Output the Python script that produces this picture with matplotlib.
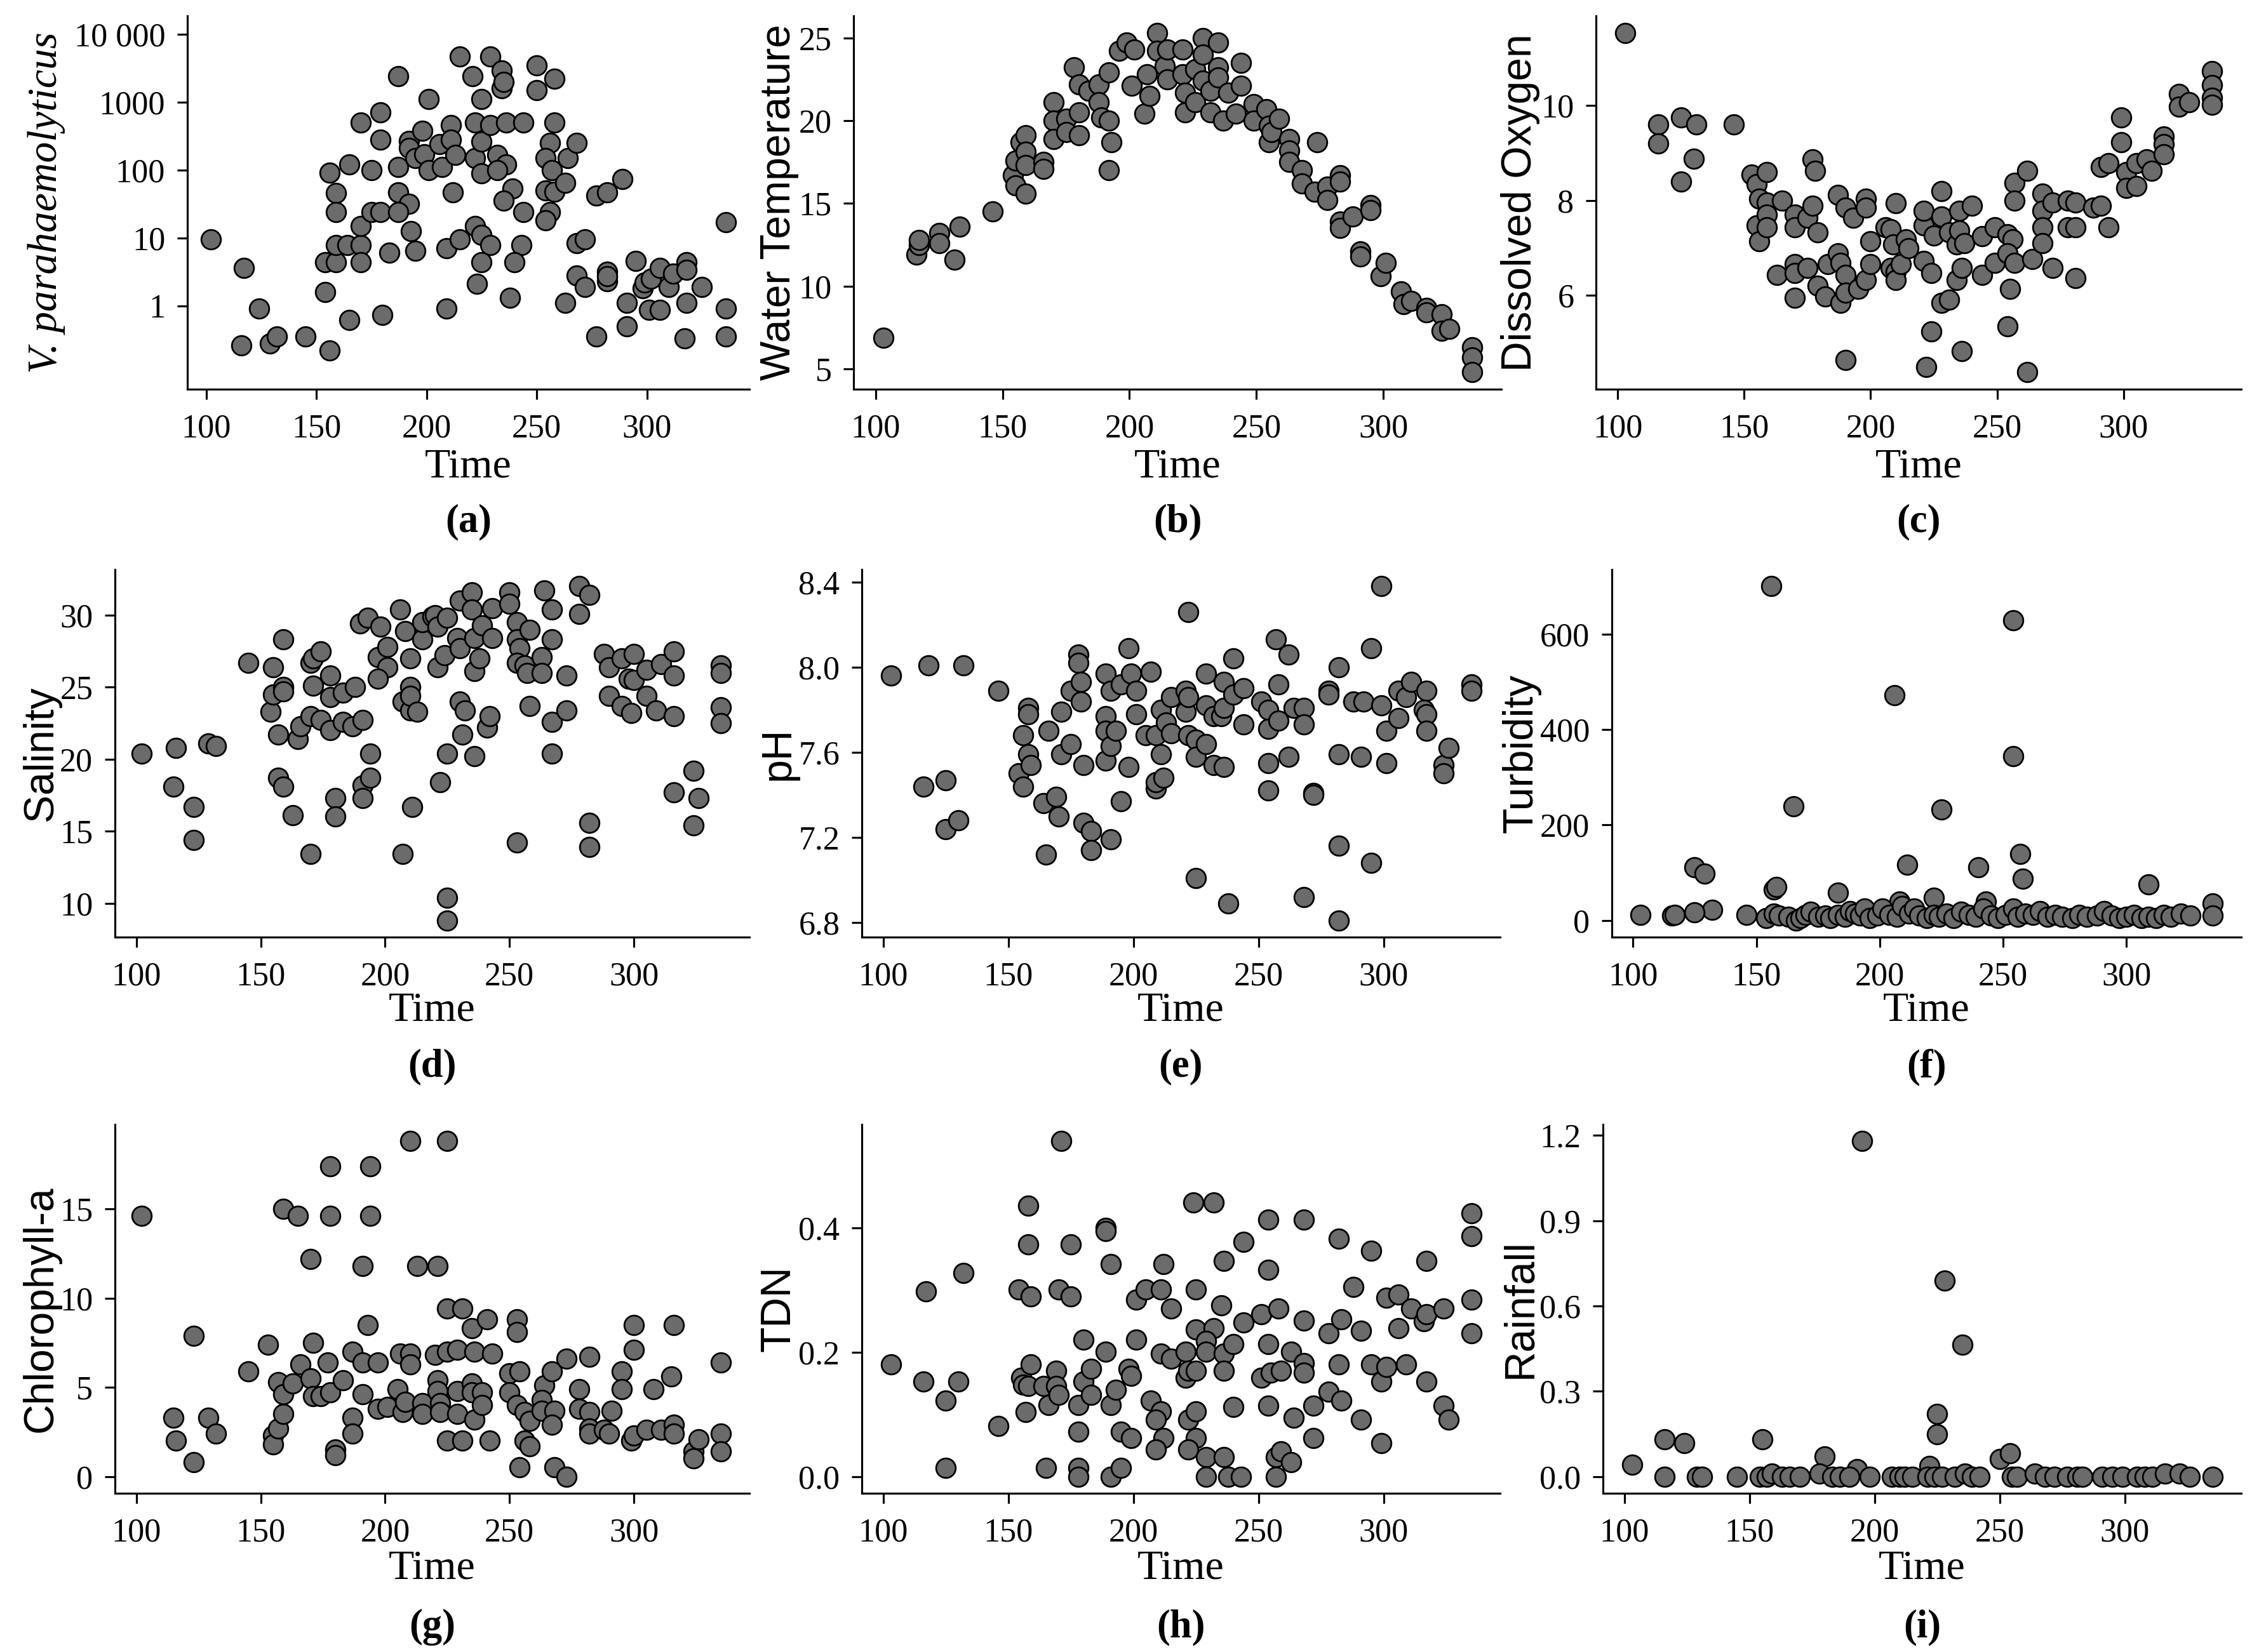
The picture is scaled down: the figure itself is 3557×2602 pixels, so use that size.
import matplotlib
matplotlib.use("Agg")
import matplotlib.pyplot as plt
from matplotlib.ticker import FixedLocator, FixedFormatter, NullLocator

plt.rcParams["font.family"] = "Liberation Serif"

# (a) V. parahaemolyticus
vp_time = [102, 117, 116, 124, 129, 132, 145, 156, 154, 165,
           180, 209, 156, 159, 159, 154, 159, 159, 164, 170,
           170, 170, 165, 170, 179, 179, 175, 175, 179, 183,
           187, 187, 187, 192, 187, 193, 195, 192, 192, 198,
           195, 199, 201, 201, 206, 207, 211, 211, 213, 212,
           215, 209, 215, 221, 222, 222, 225, 225, 225, 229,
           229, 222, 225, 229, 225, 223, 234, 234, 235, 236,
           232, 236, 232, 239, 235, 244, 244, 243, 240, 238,
           250, 250, 258, 258, 256, 254, 257, 254, 258, 263,
           256, 254, 264, 268, 268, 272, 268, 272, 263, 277,
           282, 289, 277, 282, 282, 282, 291, 291, 295, 298,
           299, 302, 301, 306, 306, 310, 312, 317, 318, 318,
           318, 325, 336, 336, 336]
vp_vals = [9.4, 3.6, 0.26, 0.9, 0.28, 0.35, 0.35, 0.22, 1.6, 0.62,
           0.74, 0.9, 91, 46, 24, 4.4, 4.4, 7.9, 7.9, 7.9,
           4.4, 15, 120, 500, 700, 280, 100, 24, 24, 6,
           2400, 110, 47, 32, 24, 12.7, 6.4, 270, 210, 380,
           150, 170, 1100, 100, 240, 110, 460, 280, 165, 47,
           4700, 7, 9.4, 2400, 500, 150, 1100, 260, 90, 4700,
           460, 15, 11, 7.9, 4.4, 2.1, 2900, 1600, 2000, 500,
           165, 120, 100, 53, 35, 500, 24, 7.9, 4.4, 1.3,
           3500, 1500, 2200, 500, 250, 150, 100, 50, 48, 64,
           24, 18, 150, 250, 8.4, 9.4, 2.8, 1.9, 1.1, 42,
           47, 74, 0.35, 3.2, 2.3, 2.7, 1.1, 0.5, 4.6, 1.8,
           2.2, 2.5, 0.87, 0.87, 3.6, 1.9, 3.0, 0.33, 4.4, 3.4,
           1.1, 1.9, 17, 0.9, 0.35]

# (b) water temperature
wt_time = [103, 116, 117, 117, 125, 125, 131, 133, 146, 154,
           155, 155, 157, 159, 159, 159, 159, 166, 166, 170,
           170, 170, 175, 175, 178, 180, 180, 180, 184, 188,
           188, 189, 192, 192, 193, 192, 196, 199, 202, 201,
           206, 208, 207, 211, 211, 214, 215, 215, 221, 221,
           222, 222, 226, 226, 229, 229, 229, 232, 232, 235,
           235, 235, 237, 239, 242, 244, 244, 249, 249, 254,
           255, 255, 256, 259, 263, 263, 263, 268, 268, 274,
           273, 278, 278, 283, 283, 283, 283, 288, 291, 291,
           295, 295, 299, 301, 307, 308, 311, 317, 317, 323,
           323, 326, 335, 335, 335]
wt_vals = [6.9, 11.9, 12.5, 12.8, 13.2, 12.6, 11.6, 13.6, 14.5, 16.7,
           16.1, 17.6, 18.7, 19.1, 18.1, 17.3, 15.6, 17.5, 17.1, 21.1,
           20.0, 18.9, 20.1, 19.3, 23.2, 22.2, 20.5, 19.1, 21.8, 22.2,
           21.1, 20.2, 22.9, 20.0, 18.7, 17.0, 24.2, 24.7, 24.3, 22.1,
           20.4, 21.5, 22.8, 25.3, 24.2, 23.3, 24.3, 22.5, 24.3, 22.8,
           21.7, 20.5, 23.1, 21.1, 25.0, 24.0, 22.4, 21.8, 20.5, 24.7,
           23.2, 22.6, 20.0, 21.7, 20.4, 23.5, 22.1, 21.0, 20.0, 20.7,
           19.7, 18.7, 19.3, 20.1, 18.9, 18.2, 17.5, 17.0, 16.2, 18.7,
           15.7, 16.0, 15.2, 16.7, 16.3, 13.9, 13.5, 14.2, 12.1, 11.8,
           14.9, 14.6, 10.6, 11.4, 9.7, 8.9, 9.1, 8.7, 8.4, 8.3,
           7.3, 7.4, 6.3, 5.7, 4.8]

# (c) dissolved oxygen
do_time = [103, 116, 116, 125, 125, 130, 131, 146, 153, 155,
           156, 159, 155, 156, 159, 159, 159, 163, 165, 170,
           170, 170, 170, 170, 175, 175, 177, 178, 177, 179,
           179, 182, 183, 187, 187, 188, 188, 190, 190, 190,
           190, 193, 195, 198, 198, 198, 200, 200, 206, 208,
           208, 210, 209, 210, 210, 212, 214, 215, 221, 221,
           221, 224, 224, 222, 225, 228, 228, 228, 231, 231,
           234, 235, 235, 237, 234, 236, 236, 240, 244, 244,
           249, 249, 254, 256, 254, 255, 254, 257, 257, 257,
           262, 262, 264, 268, 268, 268, 268, 272, 272, 278,
           278, 281, 281, 281, 288, 291, 294, 291, 294, 299,
           299, 301, 301, 305, 305, 309, 311, 316, 316, 316,
           322, 322, 326, 335, 335, 335, 335]
do_vals = [11.53, 9.6, 9.2, 9.75, 8.4, 8.88, 9.6, 9.6, 8.55, 8.34,
           8.04, 8.6, 7.48, 7.14, 7.96, 7.7, 7.44, 6.43, 8.0, 7.7,
           7.44, 5.95, 6.66, 6.47, 6.58, 7.64, 8.86, 8.63, 7.89, 7.33,
           6.2, 5.98, 6.66, 8.11, 6.88, 6.69, 5.84, 7.85, 6.43, 6.06,
           4.64, 7.63, 6.13, 8.04, 7.85, 6.32, 7.14, 6.66, 7.44, 7.4,
           6.58, 7.94, 7.07, 6.5, 6.32, 6.66, 7.18, 6.99, 7.48, 7.78,
           6.73, 6.47, 5.24, 4.49, 7.26, 8.19, 7.66, 5.84, 7.33, 5.91,
           7.07, 7.78, 7.37, 7.1, 6.32, 6.58, 4.83, 7.89, 7.25, 6.43,
           7.44, 6.69, 7.29, 7.18, 6.88, 6.13, 5.35, 8.37, 7.99, 6.69,
           8.63, 4.38, 6.77, 8.14, 7.78, 7.44, 7.1, 7.96, 6.58, 8.0,
           7.44, 7.96, 7.44, 6.36, 7.85, 7.89, 7.44, 8.71, 8.78, 9.75,
           9.23, 8.6, 8.26, 8.78, 8.3, 8.86, 8.63, 9.34, 9.19, 8.97,
           10.24, 9.98, 10.07, 10.72, 10.43, 10.16, 10.01]

# (d) salinity
sal_time = [102, 115, 116, 123, 123, 129, 132, 145, 154, 155,
            155, 159, 159, 157, 159, 157, 159, 163, 165, 166,
            170, 170, 171, 174, 171, 170, 174, 178, 178, 178,
            180, 180, 183, 183, 188, 187, 191, 190, 193, 191,
            191, 194, 194, 198, 197, 201, 201, 197, 206, 208,
            207, 210, 210, 210, 210, 213, 207, 211, 215, 215,
            219, 220, 221, 225, 221, 224, 229, 230, 230, 222,
            225, 230, 232, 231, 225, 225, 235, 235, 236, 236,
            238, 236, 239, 243, 243, 241, 242, 250, 250, 253,
            253, 254, 253, 256, 257, 258, 253, 258, 263, 263,
            264, 267, 267, 267, 267, 273, 273, 278, 282, 278,
            282, 282, 288, 290, 290, 295, 299, 295, 300, 298,
            300, 305, 309, 305, 311, 316, 316, 316, 316, 324,
            326, 324, 335, 335, 335, 335]
sal_vals = [20.4, 18.1, 20.8, 16.7, 14.4, 21.1, 20.9, 26.7, 23.3, 26.4,
            24.5, 25.0, 24.7, 21.7, 28.3, 18.7, 18.1, 16.1, 21.4, 22.3,
            13.4, 26.7, 27.0, 27.5, 25.1, 23.0, 22.7, 22.0, 25.8, 24.3,
            17.3, 16.0, 22.6, 24.6, 25.0, 22.3, 22.7, 29.4, 29.8, 18.2,
            17.3, 18.7, 20.4, 29.2, 27.1, 27.8, 26.4, 25.6, 30.4, 28.9,
            24.0, 23.4, 27.0, 25.0, 24.4, 23.3, 13.4, 16.7, 28.3, 29.5,
            29.9, 30.0, 29.2, 29.8, 26.4, 27.2, 28.4, 27.7, 31.0, 18.4,
            20.4, 24.0, 23.4, 21.7, 10.4, 8.8, 31.6, 30.4, 28.4, 26.1,
            27.0, 20.2, 29.3, 30.5, 28.4, 22.2, 23.0, 31.6, 30.8, 29.5,
            28.3, 27.7, 26.7, 26.5, 26.0, 29.0, 14.2, 23.7, 27.1, 26.0,
            31.7, 30.4, 28.3, 22.6, 20.4, 25.8, 23.4, 32.0, 31.4, 30.1,
            15.6, 13.9, 27.3, 26.4, 24.4, 23.7, 23.2, 27.0, 27.3, 25.6,
            25.5, 24.4, 23.4, 26.2, 26.6, 27.5, 25.8, 23.0, 17.7, 19.2,
            17.3, 15.4, 26.5, 26.0, 23.6, 22.5]

# (e) pH
ph_time = [103, 118, 132, 116, 125, 125, 130, 146, 154, 156,
           156, 158, 158, 158, 159, 164, 170, 169, 165, 166,
           171, 171, 175, 175, 178, 178, 179, 179, 180, 180,
           183, 183, 189, 189, 189, 189, 191, 191, 193, 191,
           195, 195, 199, 201, 201, 198, 198, 207, 205, 209,
           211, 209, 209, 212, 211, 213, 215, 215, 221, 221,
           222, 222, 222, 225, 225, 225, 229, 229, 229, 232,
           236, 232, 235, 236, 236, 238, 240, 244, 244, 240,
           251, 254, 254, 254, 254, 257, 262, 258, 258, 262,
           264, 268, 268, 268, 272, 272, 278, 278, 282, 282,
           282, 282, 288, 292, 291, 295, 295, 299, 299, 301,
           301, 306, 306, 309, 311, 317, 316, 317, 317, 324,
           324, 326, 335, 335]
ph_vals = [7.96, 8.01, 8.01, 7.44, 7.47, 7.24, 7.28, 7.89, 7.50, 7.44,
           7.68, 7.81, 7.78, 7.59, 7.54, 7.36, 7.30, 7.39, 7.12, 7.70,
           7.79, 7.59, 7.64, 7.89, 8.06, 8.02, 7.93, 7.84, 7.54, 7.27,
           7.23, 7.14, 7.97, 7.77, 7.70, 7.56, 7.89, 7.63, 7.70, 7.19,
           7.92, 7.37, 7.97, 7.89, 7.78, 8.09, 7.53, 7.98, 7.68, 7.68,
           7.59, 7.43, 7.46, 7.48, 7.80, 7.74, 7.69, 7.86, 7.89, 7.79,
           7.86, 8.26, 7.68, 7.66, 7.58, 7.01, 7.97, 7.82, 7.64, 7.54,
           7.53, 7.77, 7.77, 7.93, 7.81, 6.89, 7.87, 7.90, 7.73, 8.04,
           7.84, 7.80, 7.71, 7.55, 7.42, 8.13, 8.06, 7.92, 7.75, 7.58,
           7.81, 7.81, 7.73, 6.92, 7.41, 7.40, 7.89, 7.87, 8.00, 7.59,
           7.16, 6.81, 7.84, 7.84, 7.58, 8.09, 7.08, 8.38, 7.82, 7.70,
           7.55, 7.89, 7.76, 7.86, 7.93, 7.89, 7.80, 7.78, 7.70, 7.54,
           7.50, 7.62, 7.92, 7.89]

# (f) turbidity
turb_time = [156, 254, 206, 254, 165, 225, 257, 211, 240, 125,
             129, 258, 309, 157, 158, 183, 222, 243, 208, 335,
             132, 125, 103, 116, 117, 146, 154, 157, 159, 163,
             166, 168, 170, 172, 175, 178, 180, 183, 186, 188,
             190, 192, 194, 196, 199, 201, 204, 207, 209, 212,
             214, 216, 219, 222, 224, 227, 230, 233, 236, 239,
             242, 245, 248, 251, 254, 256, 259, 262, 265, 268,
             271, 274, 278, 281, 284, 288, 291, 294, 297, 300,
             303, 306, 309, 312, 315, 318, 322, 326, 335]
turb_vals = [700, 629, 472, 344, 239, 233, 139, 117, 111, 111,
             98, 87, 76, 65, 70, 58, 47, 39, 39, 35,
             23, 17, 12, 10, 12, 12, 5, 15, 10, 8,
             0, 5, 12, 18, 8, 10, 5, 12, 8, 20,
             15, 10, 25, 5, 10, 25, 12, 8, 30, 15,
             25, 10, 5, 12, 8, 15, 5, 18, 12, 8,
             25, 10, 5, 12, 25, 8, 15, 12, 20, 8,
             12, 8, 5, 12, 8, 10, 20, 10, 5, 8,
             12, 5, 8, 5, 12, 8, 15, 10, 10]

# (g) chlorophyll-a
chl_time = [102, 115, 116, 123, 123, 129, 132, 145, 153, 155,
            155, 157, 157, 159, 165, 159, 159, 163, 166, 170,
            170, 171, 171, 174, 177, 178, 178, 178, 180, 180,
            183, 187, 187, 187, 191, 191, 191, 193, 194, 194,
            197, 197, 201, 205, 206, 210, 210, 207, 208, 215,
            215, 210, 225, 213, 221, 220, 225, 221, 221, 222,
            222, 225, 231, 225, 231, 229, 229, 229, 235, 235,
            236, 239, 239, 235, 241, 236, 243, 242, 253, 253,
            250, 254, 250, 253, 256, 258, 256, 258, 254, 264,
            263, 263, 267, 268, 267, 268, 273, 273, 278, 278,
            282, 282, 282, 282, 288, 290, 291, 295, 295, 299,
            300, 300, 300, 305, 311, 308, 316, 316, 316, 315,
            324, 324, 326, 335, 335, 335]
chl_vals = [14.6, 3.3, 2.0, 7.9, 0.8, 3.3, 2.4, 5.9, 7.4, 2.3,
            1.8, 2.7, 5.3, 15.0, 14.6, 3.5, 4.6, 5.2, 6.3, 12.2,
            5.5, 4.5, 7.5, 4.5, 6.4, 4.7, 17.4, 14.6, 1.5, 1.2,
            5.4, 3.3, 2.4, 7.0, 6.4, 11.8, 4.6, 8.5, 17.4, 14.6,
            6.4, 3.8, 3.9, 4.9, 6.9, 6.9, 6.3, 3.6, 4.2, 4.1,
            3.5, 18.8, 18.8, 11.8, 11.8, 6.8, 7.0, 5.4, 4.8, 4.1,
            3.6, 2.0, 2.0, 9.4, 9.4, 7.1, 4.8, 3.5, 5.2, 4.7,
            3.2, 4.7, 4.0, 8.3, 8.8, 7.0, 6.9, 2.0, 8.8, 8.1,
            5.8, 5.9, 4.7, 4.0, 3.6, 3.1, 2.0, 1.7, 0.5, 5.1,
            4.3, 3.7, 5.9, 3.7, 2.9, 0.5, 0.0, 6.6, 4.9, 3.8,
            6.7, 3.6, 2.7, 2.4, 2.6, 2.4, 3.7, 5.9, 4.9, 2.0,
            2.3, 8.5, 7.1, 2.6, 2.6, 4.9, 8.5, 2.9, 2.4, 5.6,
            1.4, 1.0, 2.1, 6.4, 2.4, 1.4]

# (h) TDN
tdn_time = [103, 116, 117, 125, 125, 130, 132, 146, 154, 155,
            156, 157, 158, 159, 159, 158, 158, 164, 166, 165,
            171, 170, 175, 175, 169, 169, 170, 178, 178, 178,
            178, 180, 180, 183, 183, 189, 189, 189, 191, 191,
            191, 195, 193, 195, 199, 198, 199, 201, 201, 205,
            211, 207, 211, 209, 212, 209, 212, 215, 211, 215,
            221, 221, 222, 225, 222, 225, 225, 222, 224, 232,
            225, 225, 232, 229, 229, 229, 229, 235, 236, 236,
            236, 240, 236, 238, 243, 240, 244, 244, 251, 251,
            254, 254, 254, 255, 259, 258, 254, 257, 259, 263,
            257, 263, 264, 268, 268, 268, 268, 272, 272, 278,
            278, 283, 282, 283, 282, 288, 291, 291, 295, 295,
            299, 299, 301, 301, 306, 306, 309, 311, 316, 317,
            317, 317, 324, 324, 326, 335, 335, 335, 335]
tdn_vals = [0.18, 0.153, 0.297, 0.122, 0.014, 0.153, 0.327, 0.081, 0.301, 0.159,
            0.148, 0.104, 0.145, 0.289, 0.18, 0.435, 0.373, 0.145, 0.115, 0.014,
            0.539, 0.301, 0.289, 0.373, 0.17, 0.145, 0.131, 0.072, 0.115, 0.014,
            0.0, 0.22, 0.153, 0.173, 0.131, 0.4, 0.394, 0.201, 0.341, 0.115,
            0.0, 0.014, 0.139, 0.072, 0.062, 0.173, 0.162, 0.284, 0.22, 0.301,
            0.301, 0.122, 0.105, 0.091, 0.062, 0.043, 0.341, 0.27, 0.197, 0.189,
            0.201, 0.159, 0.17, 0.17, 0.091, 0.105, 0.062, 0.043, 0.44, 0.44,
            0.301, 0.236, 0.238, 0.218, 0.201, 0.031, 0.0, 0.275, 0.197, 0.17,
            0.346, 0.213, 0.031, 0.0, 0.0, 0.112, 0.377, 0.247, 0.261, 0.159,
            0.413, 0.332, 0.213, 0.167, 0.17, 0.27, 0.114, 0.031, 0.04, 0.023,
            0.0, 0.201, 0.094, 0.413, 0.251, 0.182, 0.167, 0.114, 0.062, 0.23,
            0.136, 0.122, 0.382, 0.253, 0.18, 0.305, 0.234, 0.091, 0.363, 0.18,
            0.153, 0.054, 0.287, 0.176, 0.292, 0.238, 0.18, 0.27, 0.25, 0.261,
            0.346, 0.153, 0.27, 0.114, 0.091, 0.423, 0.386, 0.284, 0.23]

# (i) rainfall
rain_time = [103, 116, 124, 155, 180, 195, 225, 225, 228, 235,
             250, 254, 193, 222, 116, 129, 131, 145, 154, 157,
             159, 163, 166, 170, 178, 183, 186, 190, 198, 207,
             210, 212, 215, 221, 224, 227, 232, 236, 239, 242,
             255, 257, 264, 268, 272, 277, 281, 283, 291, 295,
             299, 305, 308, 311, 316, 322, 326, 335]
rain_vals = [0.041, 0.13, 0.118, 0.13, 0.071, 1.18, 0.22, 0.149, 0.69, 0.464,
             0.062, 0.081, 0.025, 0.037, 0.0, 0.0, 0.0, 0.0, 0.0, 0.0,
             0.01, 0.0, 0.0, 0.0, 0.01, 0.0, 0.0, 0.0, 0.0, 0.0,
             0.0, 0.0, 0.0, 0.0, 0.0, 0.0, 0.0, 0.01, 0.0, 0.0,
             0.0, 0.0, 0.01, 0.0, 0.0, 0.0, 0.0, 0.0, 0.0, 0.0,
             0.0, 0.0, 0.0, 0.0, 0.01, 0.01, 0.0, 0.0]

time_ticks = [100, 150, 200, 250, 300]

fig = plt.figure(figsize=(14.228, 10.408), dpi=250)

# rows: bottom, height, "Time" y, letter y
rows = [(0.7644, 0.2260, 0.7171, 0.6841),
        (0.4327, 0.2225, 0.3882, 0.3540),
        (0.0961, 0.2233, 0.0503, 0.0150)]

panels = [
    # letter, time, values, ylabel, row, left, width, ylabel x, yticks, ytick labels
    ("a", vp_time, vp_vals, "V. parahaemolyticus", 0, 0.0829, 0.2488, 0.0205,
     [1, 10, 100, 1000, 10000], ["1", "10", "100", "1000", "10 000"]),
    ("b", wt_time, wt_vals, "Water Temperature", 0, 0.3779, 0.2868, 0.3450,
     [5, 10, 15, 20, 25], ["5", "10", "15", "20", "25"]),
    ("c", do_time, do_vals, "Dissolved Oxygen", 0, 0.7065, 0.2856, 0.6730,
     [6, 8, 10], ["6", "8", "10"]),
    ("d", sal_time, sal_vals, "Salinity", 1, 0.0509, 0.2809, 0.0183,
     [10, 15, 20, 25, 30], ["10", "15", "20", "25", "30"]),
    ("e", ph_time, ph_vals, "pH", 1, 0.3815, 0.2825, 0.3447,
     [6.8, 7.2, 7.6, 8.0, 8.4], ["6.8", "7.2", "7.6", "8.0", "8.4"]),
    ("f", turb_time, turb_vals, "Turbidity", 1, 0.7135, 0.2786, 0.6734,
     [0, 200, 400, 600], ["0", "200", "400", "600"]),
    ("g", chl_time, chl_vals, "Chlorophyll-a", 2, 0.0509, 0.2809, 0.0183,
     [0, 5, 10, 15], ["0", "5", "10", "15"]),
    ("h", tdn_time, tdn_vals, "TDN", 2, 0.3815, 0.2825, 0.3447,
     [0.0, 0.2, 0.4], ["0.0", "0.2", "0.4"]),
    ("i", rain_time, rain_vals, "Rainfall", 2, 0.7096, 0.2825, 0.6730,
     [0.0, 0.3, 0.6, 0.9, 1.2], ["0.0", "0.3", "0.6", "0.9", "1.2"]),
]

for letter, t, v, ylabel, row, left, width, ylab_x, yticks, ylabels in panels:
    bottom, height, time_y, letter_y = rows[row]
    ax = fig.add_axes([left, bottom, width, height])
    ax.scatter(t, v, s=78, c="#6b6b6b", edgecolors="black", linewidths=0.8, zorder=3)

    if letter == "a":
        ax.set_yscale("log")
        ax.set_ylim(10 ** -1.23, 10 ** 4.27)
        ax.yaxis.set_minor_locator(NullLocator())
    ax.set_xlim(91.4, 346.5)
    ax.xaxis.set_major_locator(FixedLocator(time_ticks))
    ax.xaxis.set_major_formatter(FixedFormatter([str(x) for x in time_ticks]))
    ax.yaxis.set_major_locator(FixedLocator(yticks))
    ax.yaxis.set_major_formatter(FixedFormatter(ylabels))

    for side in ["top", "right"]:
        ax.spines[side].set_visible(False)
    for side in ["left", "bottom"]:
        ax.spines[side].set_linewidth(0.9)
    ax.tick_params(axis="both", length=4.5, width=0.9, labelsize=15, colors="black")
    ax.tick_params(axis="x", pad=6.5)
    ax.tick_params(axis="y", pad=5.5)

    cx = left + width / 2
    fig.text(cx, time_y, "Time", ha="center", va="center", fontsize=19)
    fig.text(cx, letter_y, "(" + letter + ")", ha="center", va="center",
             fontsize=18, fontweight="bold")
    if letter == "a":
        fig.text(ylab_x, bottom + height / 2, ylabel, rotation=90, ha="center",
                 va="center", fontsize=19, style="italic")
    else:
        fig.text(ylab_x, bottom + height / 2, ylabel, rotation=90, ha="center",
                 va="center", fontsize=19, family="Liberation Sans")

fig.savefig("out.png", dpi=250)
